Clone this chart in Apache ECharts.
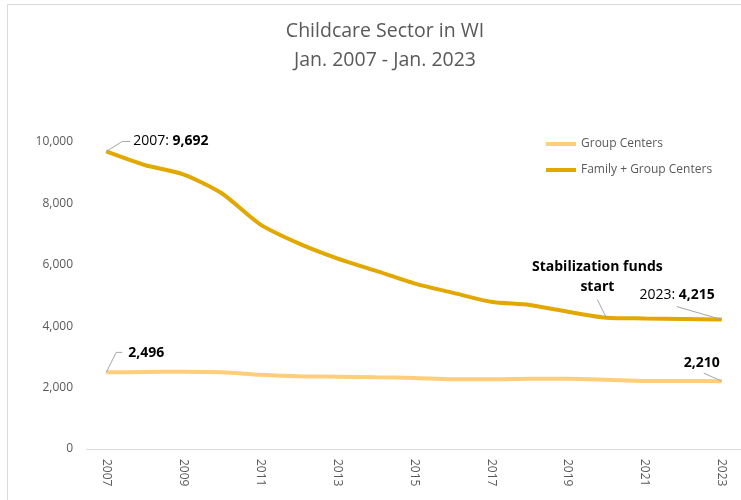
<!DOCTYPE html>
<html>
<head>
<meta charset="utf-8">
<script src="https://cdn.jsdelivr.net/npm/echarts@6/dist/echarts.min.js"></script>
<style>
  html, body { margin: 0; padding: 0; background: #fff; }
  #chart { width: 741px; height: 500px; }
</style>
</head>
<body>
<div id="chart"></div>
<script>
// ---- data ----
const years = ['2007','2008','2009','2010','2011','2012','2013','2014','2015','2016','2017','2018','2019','2020','2021','2022','2023'];
const groupCenters = [2496, 2508, 2518, 2498, 2420, 2368, 2355, 2335, 2313, 2270, 2270, 2290, 2290, 2257, 2215, 2215, 2210];
const familyGroup  = [9692, 9250, 8948, 8329, 7319, 6700, 6212, 5808, 5397, 5092, 4798, 4690, 4472, 4277, 4254, 4235, 4215];
const seriesNames = ['Group Centers', 'Family + Group Centers'];
const titleLines = ['Childcare Sector in WI', 'Jan. 2007 - Jan. 2023'];
const stabilizationText = ['Stabilization funds', 'start'];
const stabilizationYear = '2020';

const FONT = '"Open Sans", "Noto Sans", sans-serif';
const GREY = '#595959';
const DARK = '#404040';
const LEADER = '#A6A6A6';
const fmt = v => v.toLocaleString('en-US');

const chart = echarts.init(document.getElementById('chart'), null, { renderer: 'canvas' });

chart.setOption({
  animation: false,
  backgroundColor: '#ffffff',
  textStyle: { fontFamily: FONT },
  title: {
    text: titleLines.join('\n'),
    left: 380,
    top: 12,
    textAlign: 'center',
    textStyle: { fontFamily: FONT, fontSize: 19.5, fontWeight: 'normal', color: GREY, lineHeight: 29 }
  },
  legend: {
    orient: 'vertical',
    left: 541,
    top: 132,
    icon: 'rect',
    itemWidth: 30,
    itemHeight: 4,
    itemGap: 12,
    data: seriesNames,
    textStyle: { fontFamily: FONT, fontSize: 12, color: GREY, lineHeight: 14 }
  },
  grid: { left: 87, right: 0, top: 142, bottom: 51, containLabel: false },
  xAxis: {
    type: 'category',
    data: years,
    boundaryGap: true,
    axisLine: { lineStyle: { color: '#D9D9D9', width: 1 } },
    axisTick: { show: false },
    axisLabel: { interval: 1, rotate: -90, color: GREY, fontSize: 12, margin: 10, fontFamily: FONT },
    splitLine: { show: false }
  },
  yAxis: {
    type: 'value',
    min: 0, max: 10000, interval: 2000,
    axisLine: { show: false },
    axisTick: { show: false },
    splitLine: { show: false },
    axisLabel: { color: GREY, fontSize: 12, margin: 14, fontFamily: FONT, formatter: v => fmt(v) }
  },
  series: [
    {
      name: seriesNames[0], type: 'line', data: groupCenters, smooth: 0.25,
      symbol: 'none', color: '#FFCE7A',
      lineStyle: { width: 4, color: '#FFCE7A' }, z: 2
    },
    {
      name: seriesNames[1], type: 'line', data: familyGroup, smooth: 0.25,
      symbol: 'none', color: '#E2A800',
      lineStyle: { width: 4, color: '#E2A800' }, z: 3
    }
  ]
});

// ---- annotations positioned via the chart's own scales ----
function px(data, i) {
  return chart.convertToPixel({ xAxisIndex: 0, yAxisIndex: 0 }, [years[i], data[i]]);
}
const last = years.length - 1;
const iStab = years.indexOf(stabilizationYear);
const f0 = px(familyGroup, 0);
const g0 = px(groupCenters, 0);
const fS = px(familyGroup, iStab);
const fL = px(familyGroup, last);
const gL = px(groupCenters, last);

const rich = {
  n: { fontFamily: FONT, fontSize: 14, color: GREY },
  b: { fontFamily: FONT, fontSize: 14, fontWeight: 'bold', color: DARK }
};
const leader = pts => ({ type: 'polyline', z: 50, silent: true,
  shape: { points: pts }, style: { stroke: LEADER, lineWidth: 1, fill: null } });
const label = (x, y, text, align) => ({ type: 'text', z: 50, silent: true, x, y,
  style: { text, rich, align: align || 'left', verticalAlign: 'middle', fontFamily: FONT } });

chart.setOption({
  graphic: [
    { type: 'rect', z: 0, silent: true,
      shape: { x: 7.5, y: 4.5, width: 800, height: 600 },
      style: { fill: null, stroke: '#D9D9D9', lineWidth: 1 } },
    leader([[f0[0], f0[1]], [f0[0] + 16, f0[1] - 10], [f0[0] + 24, f0[1] - 10]]),
    label(f0[0] + 27, f0[1] - 10, `{n|${years[0]}: }{b|${fmt(familyGroup[0])}}`),
    leader([[g0[0], g0[1]], [g0[0] + 10, g0[1] - 20], [g0[0] + 16, g0[1] - 20]]),
    label(g0[0] + 22, g0[1] - 19, `{b|${fmt(groupCenters[0])}}`),
    leader([[fS[0] - 9, fS[1] - 18], [fS[0], fS[1]]]),
    label(fS[0] - 9, fS[1] - 51, `{b|${stabilizationText[0]}}`, 'center'),
    label(fS[0] - 9, fS[1] - 31, `{b|${stabilizationText[1]}}`, 'center'),
    leader([[fL[0] - 45, fL[1] - 13], [fL[0], fL[1]]]),
    label(fL[0] - 7, fL[1] - 25, `{n|${years[last]}: }{b|${fmt(familyGroup[last])}}`, 'right'),
    leader([[gL[0] - 18, gL[1] - 8], [gL[0], gL[1]]]),
    label(gL[0] - 2, gL[1] - 18, `{b|${fmt(groupCenters[last])}}`, 'right')
  ]
});
</script>
</body>
</html>
